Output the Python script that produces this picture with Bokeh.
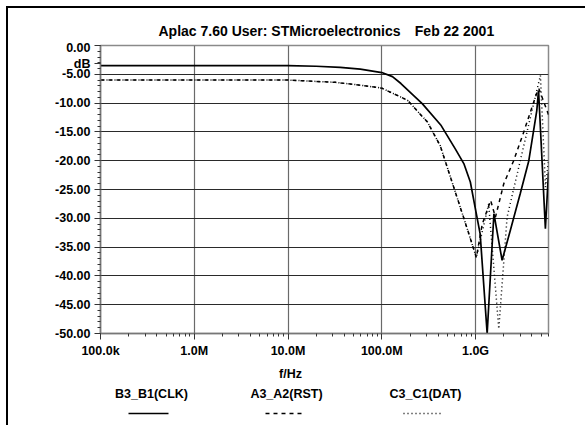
from bokeh.plotting import figure
from bokeh.layouts import column
from bokeh.models import Range1d, FixedTicker, Label
from bokeh.embed import file_html
from bokeh.resources import INLINE

# ---------------- data ----------------
TITLE_LEFT = "Aplac 7.60 User: STMicroelectronics"
TITLE_RIGHT = "Feb 22 2001"
X_TITLE = "f/Hz"
Y_UNIT = "dB"
series_names = ["B3_B1(CLK)", "A3_A2(RST)", "C3_C1(DAT)"]

x_ticks = [1e5, 1e6, 1e7, 1e8, 1e9]
x_tick_labels = ["100.0k", "1.0M", "10.0M", "100.0M", "1.0G"]
y_ticks = [0, -5, -10, -15, -20, -25, -30, -35, -40, -45, -50]
y_tick_labels = ["0.00", "-5.00", "-10.00", "-15.00", "-20.00", "-25.00",
                 "-30.00", "-35.00", "-40.00", "-45.00", "-50.00"]
y_unit_pos = -3.2

clk_f = [1e5, 1e6, 1e7, 2.0e7, 3.6e7, 5.9e7, 1.0e8, 1.3e8, 1.6e8, 2.7e8, 4.3e8,
         6.1e8, 7.5e8, 8.8e8, 1.0e9, 1.12e9, 1.33e9, 1.57e9, 1.92e9, 2.36e9,
         3.0e9, 3.7e9, 4.5e9, 4.7e9, 5.56e9, 6.0e9]
clk_db = [-3.5, -3.5, -3.5, -3.6, -3.8, -4.1, -4.7, -5.4, -6.6, -10.1, -13.9,
          -18.0, -20.5, -23.7, -28.5, -32.7, -50.0, -29.2, -37.3, -32.0,
          -25.7, -20.0, -11.3, -7.8, -31.8, -22.0]

rst_f = [1e5, 1e7, 3.2e7, 6.0e7, 1.0e8, 1.88e8, 3.07e8, 4.2e8, 6.1e8, 8.15e8,
         1.02e9, 1.18e9, 1.45e9, 1.63e9, 2.0e9, 2.55e9, 3.27e9, 4.0e9, 4.54e9,
         4.74e9, 6.0e9]
rst_db = [-6.0, -6.0, -6.4, -6.9, -7.4, -9.5, -13.3, -17.4, -25.5, -31.8,
          -36.8, -31.0, -26.9, -29.8, -24.0, -20.0, -15.0, -10.7, -8.1,
          -7.5, -12.0]

dat_f = [1e5, 1e7, 3.2e7, 6.0e7, 1.0e8, 1.88e8, 3.07e8, 4.2e8, 6.1e8, 8.15e8,
         1.02e9, 1.38e9, 1.77e9, 2.17e9, 3.0e9, 4.0e9, 4.92e9, 5.57e9, 6.0e9]
dat_db = [-6.0, -6.0, -6.4, -6.9, -7.4, -9.5, -13.3, -17.4, -25.5, -31.8,
          -36.8, -27.5, -49.2, -29.8, -20.0, -11.3, -5.2, -24.6, -20.0]

# ---------------- layout (page pixels) ----------------
FONT = "Liberation Sans"
LEFT, RIGHT = 8, 585                 # content area on page
TOP, T_BOT, C_BOT, BOTTOM = 8, 40, 362, 425
F_LEFT, F_RIGHT, F_TOP, F_BOTTOM = 100, 548, 45, 333
W = RIGHT - LEFT
dashes = ["solid", "4 4", "1 3"]
dash_offsets = [0, 0, 2]


def text_panel(y0, y1):
    # frame horizontally aligned with the chart frame; coordinates = page px
    f = figure(width=W, height=y1 - y0, x_range=Range1d(F_LEFT, F_RIGHT),
               y_range=Range1d(y1, y0), output_backend="svg",
               toolbar_location=None, x_axis_location=None,
               y_axis_location=None, min_border_left=F_LEFT - LEFT,
               min_border_right=RIGHT - F_RIGHT, min_border_top=0,
               min_border_bottom=0)
    f.grid.visible = False
    f.outline_line_color = None
    f.background_fill_color = "white"
    f.border_fill_color = "white"
    return f


def lbl(f, txt, px, py, size="12.5px"):
    f.add_layout(Label(x=px, y=py, text=txt, text_align="center",
                       text_baseline="middle", text_font=FONT,
                       text_font_size=size, text_font_style="bold",
                       text_color="black"))


# title strip
pt = text_panel(TOP, T_BOT)
lbl(pt, TITLE_LEFT, 279, 30, "14px")
lbl(pt, TITLE_RIGHT, 454, 30, "14px")

# chart
p = figure(width=W, height=C_BOT - T_BOT, x_axis_type="log",
           x_range=Range1d(1e5, 6e9), y_range=Range1d(-50, 0),
           output_backend="svg", toolbar_location=None,
           min_border_left=F_LEFT - LEFT, min_border_right=RIGHT - F_RIGHT,
           min_border_top=F_TOP - T_BOT, min_border_bottom=C_BOT - F_BOTTOM)
p.background_fill_color = "white"
p.border_fill_color = "white"
p.outline_line_color = "#8a8a8a"
p.outline_line_width = 1.5

minor_x = [m * d for d in x_ticks for m in range(2, 10) if m * d <= 6e9]
p.xaxis.ticker = FixedTicker(ticks=x_ticks, minor_ticks=minor_x)
p.xaxis.major_label_overrides = {t: l for t, l in zip(x_ticks, x_tick_labels)}
p.yaxis.ticker = FixedTicker(ticks=y_ticks + [y_unit_pos],
                             minor_ticks=list(range(-50, 1)))
yo = {t: l for t, l in zip(y_ticks, y_tick_labels)}
yo[y_unit_pos] = Y_UNIT
p.yaxis.major_label_overrides = yo
p.xgrid.ticker = FixedTicker(ticks=x_ticks)
p.ygrid.ticker = FixedTicker(ticks=y_ticks)

for ax in (p.xaxis, p.yaxis):
    ax.major_label_text_font = FONT
    ax.major_label_text_font_size = "12.5px"
    ax.major_label_text_font_style = "bold"
    ax.major_label_text_color = "black"
    ax.axis_line_color = "#777777"
    ax.axis_line_width = 1.5
    ax.major_tick_line_color = "#333333"
    ax.minor_tick_line_color = "#333333"
    ax.major_tick_in = 0
    ax.minor_tick_in = 0
    ax.major_tick_out = 6
    ax.minor_tick_out = 3
    ax.major_label_standoff = 4

p.xgrid.grid_line_color = "#6a6a6a"
p.xgrid.grid_line_width = 1.2
p.ygrid.grid_line_color = "#2a2a2a"
p.ygrid.grid_line_width = 1.0

series = [(clk_f, clk_db, 1.7), (rst_f, rst_db, 1.5), (dat_f, dat_db, 1.5)]
for (fx, fy, lw), d, off in zip(series, dashes, dash_offsets):
    p.line(fx, fy, line_color="black", line_width=lw, line_dash=d,
           line_dash_offset=off)

# legend strip
pl = text_panel(C_BOT, BOTTOM)
lbl(pl, X_TITLE, 290, 373)
leg_text_x = [151, 286, 425]
leg_half = [20, 18, 19]
for name, tx, hw, d in zip(series_names, leg_text_x, leg_half, dashes):
    lbl(pl, name, tx, 393)
    pl.line([tx - 3 - hw, tx - 3 + hw], [413, 413], line_color="black",
            line_width=1.6, line_dash=d)

layout = column(pt, p, pl, spacing=0, margin=(6, 0, 0, 6),
                styles={"border-left": "2px solid black",
                        "border-top": "2px solid black"})

open("out.html", "w").write(file_html(layout, INLINE))
